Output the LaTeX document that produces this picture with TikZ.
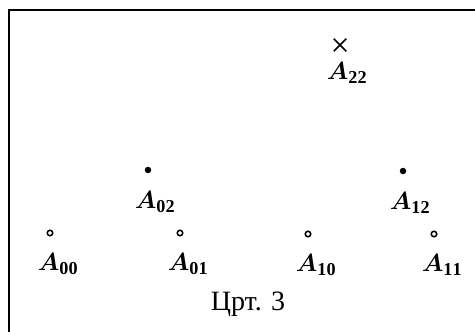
\documentclass[tikz,border=0pt]{standalone}
\usepackage{fontspec}
\setmainfont{Liberation Serif}
\usepackage{amsmath}
\usepackage{tikz}
\usetikzlibrary{positioning, shapes.misc}
\newcommand{\ptname}[1]{$\boldsymbol{A}_{\mathbf{#1}}$}

\begin{document}
\begin{tikzpicture}[
  x=1pt, y=-1pt,
  every node/.style={inner sep=0pt, outer sep=0pt},
  opendot/.style={circle, draw, line width=1.5pt, minimum size=5.5pt},
  fulldot/.style={circle, fill, minimum size=6.5pt},
  crossmark/.style={cross out, draw, line width=1.7pt, minimum size=12.5pt},
  lbl/.style={font=\fontsize{26}{30}\selectfont}
]
  \useasboundingbox (0,0) rectangle (475,332);
  \draw[line width=1.5pt] (9,340) -- (9,10) -- (480,10);

  % top
  \node[crossmark] (a22) at (340,45) {};
  \node[lbl, below=11pt of a22, xshift=7pt] (t22) {\ptname{22}};

  % middle row
  \node[fulldot] (a02) at (148,170) {};
  \node[lbl, below=18pt of a02, xshift=7pt] (t02) {\ptname{02}};
  \node[fulldot] (a12) at (403,171) {};
  \node[lbl, below=18pt of a12, xshift=7pt] (t12) {\ptname{12}};

  % bottom row
  \node[opendot] (a00) at (50,233) {};
  \node[lbl, below=18pt of a00, xshift=8pt] (t00) {\ptname{00}};
  \node[opendot] (a01) at (180,233) {};
  \node[lbl, below=18pt of a01, xshift=8pt] (t01) {\ptname{01}};
  \node[opendot] (a10) at (308,234) {};
  \node[lbl, below=18pt of a10, xshift=8pt] (t10) {\ptname{10}};
  \node[opendot] (a11) at (434,234) {};
  \node[lbl, below=18pt of a11, xshift=8pt] (t11) {\ptname{11}};

  \node[font=\fontsize{28}{32}\selectfont] (cap) at (248,304) {Црт. 3};
\end{tikzpicture}
\end{document}
